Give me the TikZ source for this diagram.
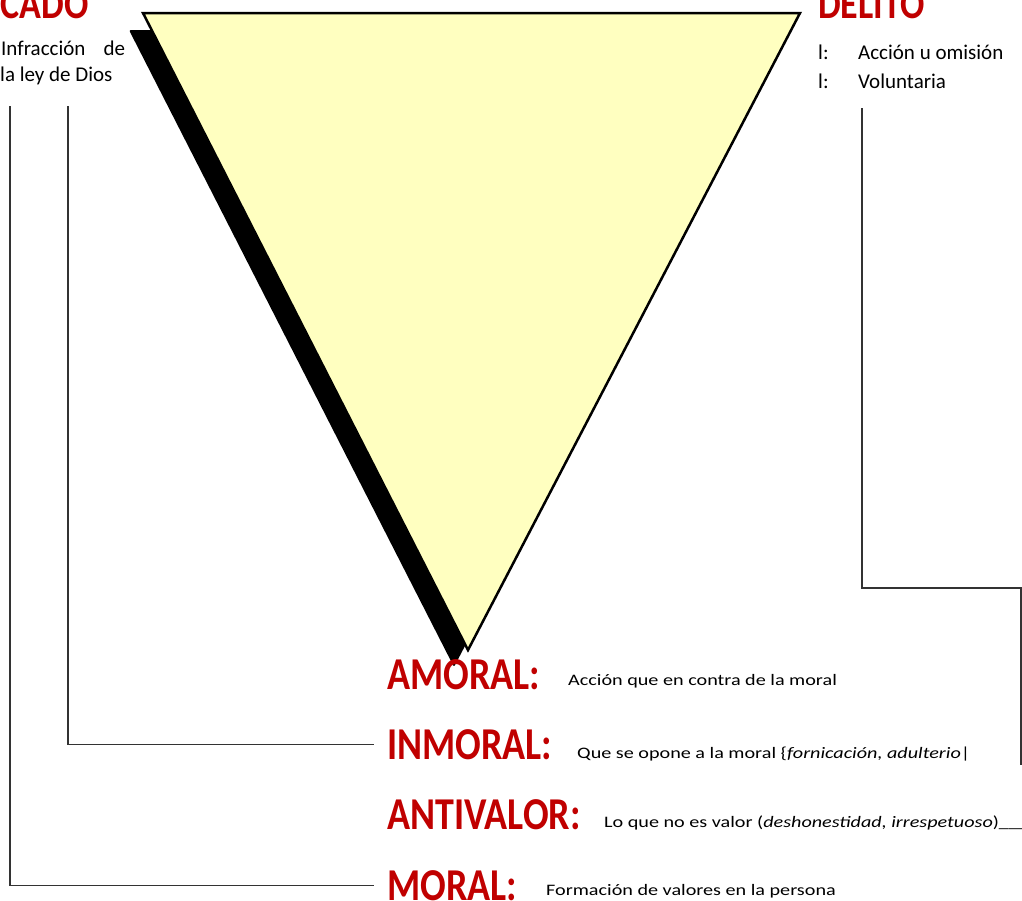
\documentclass[tikz,border=0pt]{standalone}
\usepackage{fontspec}
\setmainfont{Carlito}
\usepackage{graphicx}
\usetikzlibrary{positioning}
\definecolor{rojo}{RGB}{192,0,0}
\definecolor{amarillo}{RGB}{255,255,192}
\newcommand{\alto}[1]{\scalebox{1}[1.2]{#1}}
\newcommand{\ancho}[1]{\scalebox{1.26}[1]{#1}}
\tikzset{
  etiqueta/.style={anchor=base west, inner sep=0pt, text=rojo, font=\bfseries\fontsize{38}{40}\selectfont},
  titulo/.style={etiqueta, font=\bfseries\fontsize{36}{38}\selectfont},
  texto/.style={anchor=base west, inner sep=0pt, font=\fontsize{16}{19}\selectfont},
  nota/.style={anchor=base west, inner sep=0pt, font=\fontsize{21}{27}\selectfont},
  linea/.style={draw=black!80, line width=1.2pt}
}
\begin{document}
\begin{tikzpicture}[x=1pt,y=-1pt]
\useasboundingbox (0,0) rectangle (1022,900);
\coordinate (tl) at (143,13);
\coordinate (tr) at (800,13);
\coordinate (tb) at (468,650);
\fill[black, rounded corners=2pt] ([shift={(-14,17)}]tl) -- ([shift={(-14,17)}]tr) -- ([shift={(-14,17)}]tb) -- cycle;
\draw[line width=2.5pt, fill=amarillo] (tl) -- (tr) -- (tb) -- cycle;
\node (pecado) at (89,18) [titulo, anchor=base east]{\alto{PECADO}};
\node (delito) at (818,18) [titulo]{\alto{DELITO}};
\node (pec1) at (1,55) [nota]{\makebox[124pt][s]{Infracción de}};
\node (pec2) at (0,81) [nota]{la ley de Dios};
\foreach \n/\y/\t in {del1/59/Acción u omisión, del2/88/Voluntaria}{
\node (\n) at (818,\y) [nota]{\makebox[40pt][l]{l:}\t};}
\foreach \n/\y/\t in {amoral/689/AMORAL:, inmoral/759/INMORAL:, antivalor/829/ANTIVALOR:, moral/900/MORAL:}{
\node (\n) at (387,\y) [etiqueta]{\alto{\t}};}
\node (amoraltx) at (568,685) [texto]{\ancho{Acción que en contra de la moral}};
\node (inmoraltx) at (577,758) [texto]{\ancho{Que se opone a la moral \{\textit{fornicación, adulterio}|}};
\node (antivalortx) at (604,827) [texto]{\ancho{Lo que no es valor (\textit{deshonestidad, irrespetuoso})\_\_\_}};
\node (moraltx) at (546,895) [texto]{\ancho{Formación de valores en la persona}};
\coordinate (p1) at (10,106);
\coordinate (p2) at (68,106);
\coordinate (d1) at (862,108);
\coordinate (codo) at (1021,588);
\coordinate (d2) at (1021,765);
\draw[linea] (p1) |- ([xshift=-13pt]moral.west);
\draw[linea] (p2) |- ([xshift=-13pt]inmoral.west);
\draw[linea] (d1) |- (codo) -- (d2);
\end{tikzpicture}
\end{document}
